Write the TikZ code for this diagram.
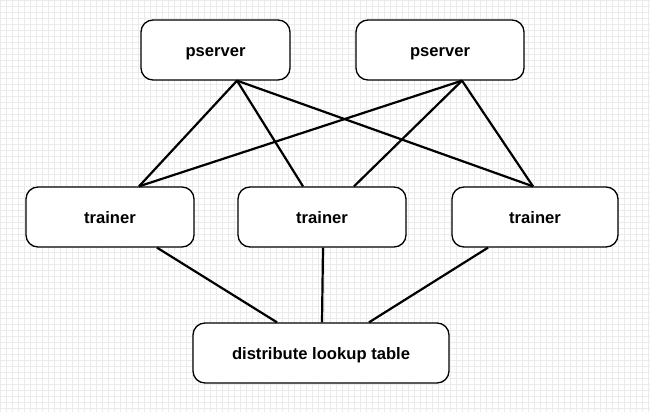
\documentclass[tikz,border=0pt]{standalone}
\usepackage{fontspec}
\setmainfont{Liberation Sans}
\begin{document}
\begin{tikzpicture}[x=1pt,y=-1pt,
  box/.style={draw=black, line width=1.3pt, fill=white, rounded corners=12pt,
    minimum height=60pt, inner sep=0pt, text height=13.6pt, text depth=0pt,
    font=\fontsize{16.6}{19}\selectfont\bfseries},
  link/.style={draw=black, line width=2.2pt}]
\useasboundingbox (0,0) rectangle (650,412);
\fill[white] (0,0) rectangle (650,412);
\draw[black!8, line width=0.5pt, step=6pt] (0,0) grid (650,412);
\node[box, minimum width=149pt] (p1) at (215.5,50) {pserver};
\node[box, minimum width=168pt] (p2) at (440,50) {pserver};
\node[box, minimum width=168pt] (t1) at (110,217) {trainer};
\node[box, minimum width=168pt] (t2) at (322,217) {trainer};
\node[box, minimum width=166pt] (t3) at (535,217) {trainer};
\node[box, minimum width=256pt] (d) at (321,353) {distribute lookup table};
\coordinate (p1b) at ([xshift=21.5pt]p1.south);
\coordinate (p2b) at ([xshift=22pt]p2.south);
\coordinate (t1t) at ([xshift=29pt]t1.north);
\coordinate (t2l) at ([xshift=-19pt]t2.north);
\coordinate (t2r) at ([xshift=32pt]t2.north);
\coordinate (t3t) at ([xshift=-2pt]t3.north);
\coordinate (t1b) at ([xshift=47pt]t1.south);
\coordinate (t2b) at ([xshift=1pt]t2.south);
\coordinate (t3b) at ([xshift=-47pt]t3.south);
\coordinate (dl) at ([xshift=-44pt]d.north);
\coordinate (dm) at ([xshift=1pt]d.north);
\coordinate (dr) at ([xshift=48pt]d.north);
\draw[link] (p1b) -- (t1t);
\draw[link] (p1b) -- (t2l);
\draw[link] (p1b) -- (t3t);
\draw[link] (p2b) -- (t1t);
\draw[link] (p2b) -- (t2r);
\draw[link] (p2b) -- (t3t);
\draw[link] (t1b) -- (dl);
\draw[link] (t2b) -- (dm);
\draw[link] (t3b) -- (dr);
\end{tikzpicture}
\end{document}
